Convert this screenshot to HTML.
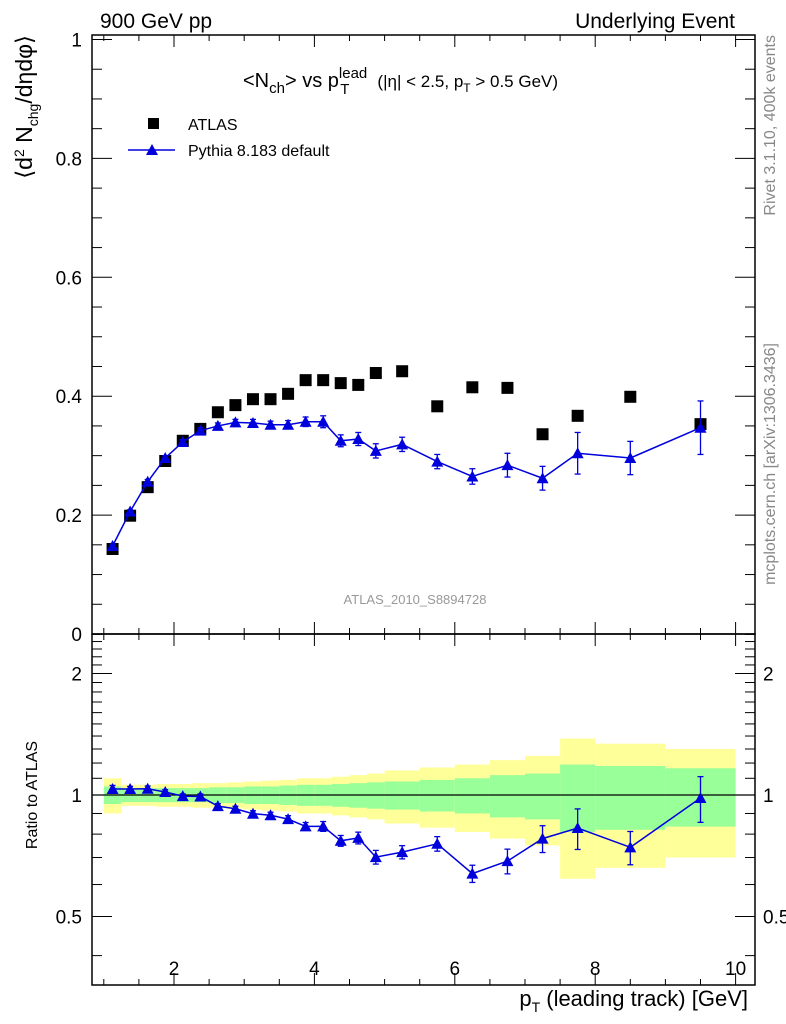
<!DOCTYPE html>
<html><head><meta charset="utf-8"><style>
body{margin:0;background:#fff}
svg{display:block;font-family:"Liberation Sans",sans-serif}
</style></head><body>
<svg id="c" width="786" height="1024" viewBox="0 0 786 1024" xmlns="http://www.w3.org/2000/svg"></svg>
<script>
const binLo=[1,1.25,1.5,1.75,2,2.25,2.5,2.75,3,3.25,3.5,3.75,4,4.25,4.5,4.75,5,5.5,6,6.5,7,7.5,8,9];
const binHi=[1.25,1.5,1.75,2,2.25,2.5,2.75,3,3.25,3.5,3.75,4,4.25,4.5,4.75,5,5.5,6,6.5,7,7.5,8,9,10];
const atlasVals=[0.143,0.199,0.247,0.291,0.325,0.345,0.373,0.385,0.395,0.395,0.404,0.427,0.427,0.422,0.419,0.439,0.442,0.383,0.415,0.414,0.336,0.367,0.399,0.353];
const pythiaVals=[0.148,0.206,0.256,0.296,0.323,0.342,0.35,0.356,0.355,0.352,0.352,0.357,0.357,0.325,0.328,0.308,0.319,0.29,0.265,0.284,0.262,0.304,0.296,0.347];
const pythiaErr=[0.003,0.003,0.004,0.004,0.004,0.005,0.005,0.005,0.006,0.006,0.007,0.008,0.01,0.01,0.011,0.012,0.012,0.012,0.013,0.02,0.02,0.035,0.028,0.045];
const statBand=[0.05,0.04,0.04,0.04,0.04,0.04,0.045,0.045,0.05,0.05,0.055,0.06,0.06,0.065,0.07,0.075,0.08,0.09,0.1,0.12,0.13,0.19,0.18,0.165];
const totBand=[0.1,0.06,0.06,0.065,0.065,0.07,0.07,0.075,0.08,0.085,0.09,0.1,0.1,0.11,0.12,0.13,0.15,0.17,0.19,0.22,0.25,0.38,0.34,0.3];
const xTicks=[2,4,6,8,10];
const yTicks=[0,0.2,0.4,0.6,0.8,1];
const rTicks=[0.5,1,2];

const svg=document.getElementById('c');
const NS='http://www.w3.org/2000/svg';
function mk(tag,at,parent){const e=document.createElementNS(NS,tag);for(const k in at)e.setAttribute(k,at[k]);(parent||svg).appendChild(e);return e;}
const L=92,R=755,T1=35,B1=634,B2=985;
const X=v=>33.6+70.2*v;
const Y=v=>634-594.5*v;
const RY=v=>795-121.5*Math.log2(v);

for(let i=0;i<binLo.length;i++){
  const y1=mk('rect',{x:X(binLo[i]),y:RY(1+totBand[i]),width:X(binHi[i])-X(binLo[i]),height:RY(1-totBand[i])-RY(1+totBand[i]),fill:'#ffff99'});
  
  
  const g=mk('rect',{x:X(binLo[i]),y:RY(1+statBand[i]),width:X(binHi[i])-X(binLo[i]),height:RY(1-statBand[i])-RY(1+statBand[i]),fill:'#99ff99'});
  
  
}
mk('line',{x1:L,x2:R,y1:RY(1),y2:RY(1),stroke:'#000','stroke-width':1.2});

const f1=mk('rect',{x:L,y:T1,width:R-L,height:B1-T1,fill:'none',stroke:'#000','stroke-width':1.5});

const f2=mk('rect',{x:L,y:B1,width:R-L,height:B2-B1,fill:'none',stroke:'#000','stroke-width':1.5});


for(let v=1;v<=10.2;v+=0.5){
  const major=Math.abs(v/2-Math.round(v/2))<1e-6;const len=major?12:6;
  for(const [t,b] of [[T1,B1],[B1,B2]]){
    mk('line',{x1:X(v),x2:X(v),y1:b,y2:b-len,stroke:'#000'});
    mk('line',{x1:X(v),x2:X(v),y1:t,y2:t+len,stroke:'#000'});
  }
}
xTicks.forEach(v=>{const t=mk('text',{x:X(v),y:975,'font-size':19,'text-anchor':'middle'});t.textContent=v;
  });
for(let k=0;k<=20;k++){const v=k*0.05;const major=k%4==0;const len=major?20:10;
  mk('line',{x1:L,x2:L+len,y1:Y(v),y2:Y(v),stroke:'#000'});
  mk('line',{x1:R,x2:R-len,y1:Y(v),y2:Y(v),stroke:'#000'});}
yTicks.forEach(v=>{const t=mk('text',{x:82,y:Math.min(Y(v)+7,642),'font-size':19,'text-anchor':'end'});t.textContent=v;
  });
for(let k=4;k<=25;k++){const v=k/10;const major=rTicks.some(r=>Math.abs(r-v)<1e-6);const len=major?20:10;
  const y=RY(v);if(y<B1||y>B2)continue;
  mk('line',{x1:L,x2:L+len,y1:y,y2:y,stroke:'#000'});
  mk('line',{x1:R,x2:R-len,y1:y,y2:y,stroke:'#000'});}
rTicks.forEach(v=>{for(const [x,a] of [[82,'end'],[763,'start']]){const t=mk('text',{x:x,y:RY(v)+7,'font-size':19,'text-anchor':a});t.textContent=v;
  }});

const mids=binLo.map((l,i)=>(l+binHi[i])/2);
function series(vals,errs,yf){
  mk('polyline',{points:mids.map((m,i)=>X(m)+','+yf(vals[i])).join(' '),fill:'none',stroke:'#0000dd','stroke-width':1.5});
  mids.forEach((m,i)=>{
    const x=X(m),ya=yf(vals[i]+errs[i]),yb=yf(vals[i]-errs[i]);
    mk('line',{x1:x,x2:x,y1:ya,y2:yb,stroke:'#0000dd','stroke-width':1.3});
    mk('line',{x1:x-3,x2:x+3,y1:ya,y2:ya,stroke:'#0000dd','stroke-width':1.3});
    mk('line',{x1:x-3,x2:x+3,y1:yb,y2:yb,stroke:'#0000dd','stroke-width':1.3});
    const y=yf(vals[i]);
    const p=mk('polygon',{points:`${x},${y-6} ${x-6},${y+5} ${x+6},${y+5}`,fill:'#0000dd'});
    
  });
}
atlasVals.forEach((v,i)=>{const r=mk('rect',{x:X(mids[i])-6,y:Y(v)-6,width:12,height:12,fill:'#000'});
  });
series(pythiaVals,pythiaErr,Y);
const ratio=pythiaVals.map((p,i)=>p/atlasVals[i]);
const ratioErr=pythiaErr.map((e,i)=>e/atlasVals[i]);
series(ratio,ratioErr,RY);

function txt(x,y,s,at,name){const t=mk('text',Object.assign({x:x,y:y},at));t.innerHTML=s;
  return t;}
txt(100,28,'900 GeV pp',{'font-size':21},'energy-label');
txt(735,28,'Underlying Event',{'font-size':21,'text-anchor':'end'},'process-label');
txt(243,87,'&lt;N<tspan font-size="15" dy="6">ch</tspan><tspan dy="-6">&gt; vs p</tspan><tspan font-size="15" dy="-9">lead</tspan><tspan font-size="15" dx="-27" dy="16">T</tspan><tspan font-size="17" dx="28" dy="-7">(|η| &lt; 2.5, p</tspan><tspan font-size="12" dy="5">T</tspan><tspan font-size="17" dy="-5"> &gt; 0.5 GeV)</tspan>',{'font-size':20},'plot-title');
mk('rect',{x:148,y:118,width:11,height:11,fill:'#000'});
txt(188,130,'ATLAS',{'font-size':16},'legend-atlas');
mk('line',{x1:128,x2:175,y1:150,y2:150,stroke:'#0000dd','stroke-width':1.5});
mk('polygon',{points:'152,144 146,155 158,155',fill:'#0000dd'});
txt(188,156,'Pythia 8.183 default',{'font-size':16},'legend-pythia');
txt(415,604,'ATLAS_2010_S8894728',{'font-size':13,fill:'#999','text-anchor':'middle'},'analysis-id');
txt(0,0,'Rivet 3.1.10,  400k events',{'font-size':16,fill:'#888','text-anchor':'end',transform:'translate(775,35) rotate(-90)'},'rivet-label');
txt(0,0,'mcplots.cern.ch [arXiv:1306.3436]',{'font-size':16,fill:'#888','text-anchor':'end',transform:'translate(775,343) rotate(-90)'},'mcplots-label');
txt(0,0,'⟨d<tspan font-size="14" dy="-8">2</tspan><tspan dy="8"> N</tspan><tspan font-size="14" dy="6">chg</tspan><tspan dy="-6">/dηdφ⟩</tspan>',{'font-size':23,'text-anchor':'end',transform:'translate(32,35) rotate(-90)'},'y-axis-title');
txt(0,0,'Ratio to ATLAS',{'font-size':16,'text-anchor':'middle',transform:'translate(37,795) rotate(-90)'},'ratio-axis-title');
txt(748,1006,'p<tspan font-size="14" dy="6">T</tspan><tspan dy="-6"> (leading track) [GeV]</tspan>',{'font-size':22,'text-anchor':'end'},'x-axis-title');
</script>
</body></html>
